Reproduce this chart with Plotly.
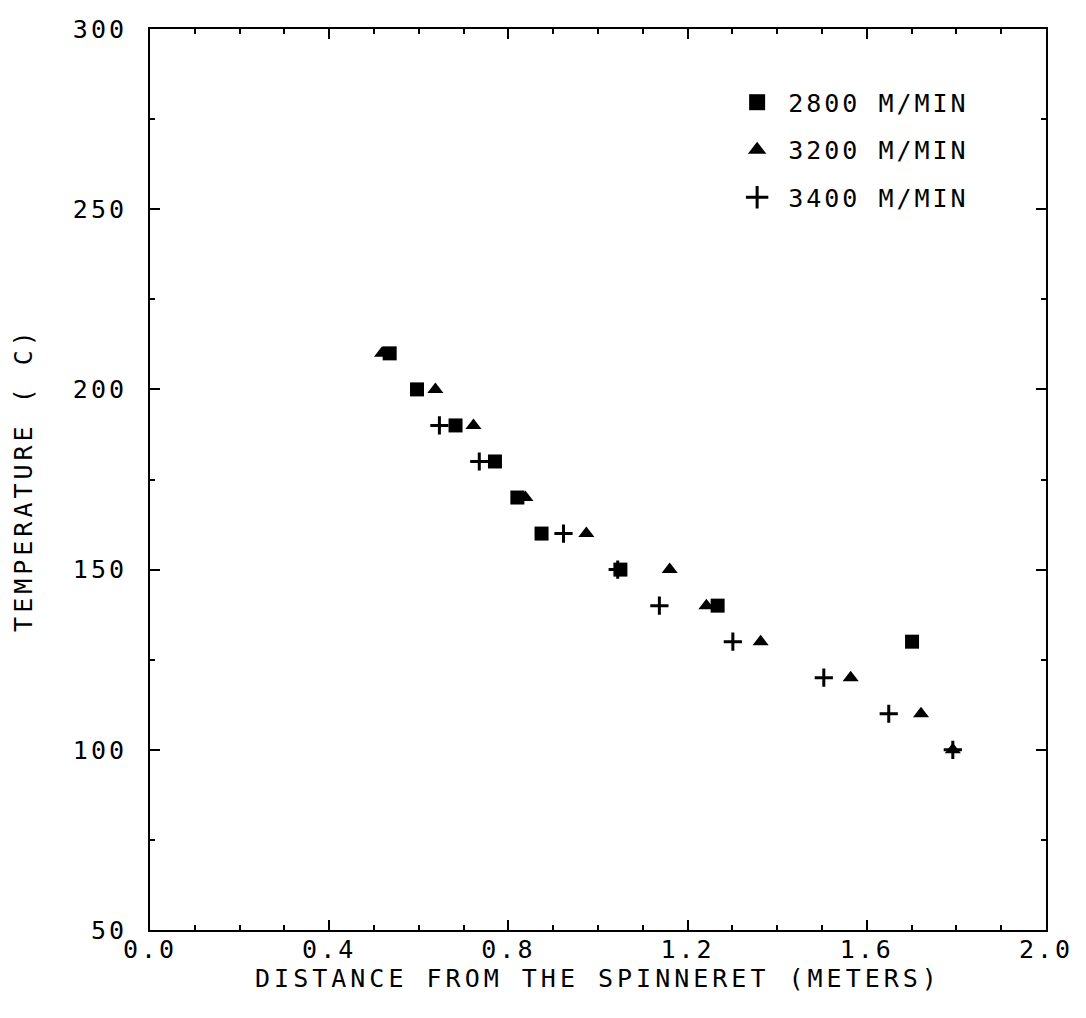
import plotly.graph_objects as go

# ---- data ----
sq_x = [0.535, 0.596, 0.682, 0.770, 0.820, 0.874, 1.050, 1.267, 1.701]
sq_t = [210, 200, 190, 180, 170, 160, 150, 140, 130]

tri_x = [0.518, 0.637, 0.722, 0.838, 0.974, 1.160, 1.242, 1.363, 1.564, 1.721, 1.792]
tri_t = [210, 200, 190, 170, 160, 150, 140, 130, 120, 110, 100]

plus_x = [0.646, 0.735, 0.923, 1.044, 1.137, 1.301, 1.504, 1.649, 1.792]
plus_t = [190, 180, 160, 150, 140, 130, 120, 110, 100]

names = ["2800 M/MIN", "3200 M/MIN", "3400 M/MIN"]
x_ticks = [0.0, 0.4, 0.8, 1.2, 1.6, 2.0]
x_tick_text = ["0.0", "0.4", "0.8", "1.2", "1.6", "2.0"]
y_ticks = [50, 100, 150, 200, 250, 300]

FONT = "DejaVu Sans Mono"
fs = 25

series = [
    (sq_x, sq_t, names[0], "a", dict(symbol="square", color="black"), 14),
    (tri_x, tri_t, names[1], "b", dict(symbol="triangle-up", color="black"), 14),
    (plus_x, plus_t, names[2], "c", dict(symbol="cross-thin", color="black",
                                         line=dict(width=3, color="black")), 13),
]

fig = go.Figure()
for xs, ts, nm, grp, mk, sz in series:
    fig.add_trace(go.Scatter(x=xs, y=ts, mode="markers", name=nm, legendgroup=grp,
                             showlegend=False, marker=dict(size=sz, **mk)))
    # legend entry with the larger symbol used in the key
    fig.add_trace(go.Scatter(x=[None], y=[None], mode="markers", name=nm, legendgroup=grp,
                             showlegend=True, marker=dict(size=16, **mk)))

axis_common = dict(showline=True, linecolor="black", linewidth=2, mirror="ticks",
                   ticks="inside", tickcolor="black", tickwidth=2, ticklen=10,
                   showgrid=False, zeroline=False,
                   tickfont=dict(family=FONT, size=fs, color="black"))

fig.update_xaxes(range=[0, 2.0], tickvals=x_ticks, ticktext=x_tick_text,
                 minor=dict(dtick=0.1, ticks="inside", ticklen=5, tickwidth=2, tickcolor="black"),
                 ticklabelstandoff=-4,
                 title=dict(text="DISTANCE FROM THE SPINNERET (METERS)",
                            font=dict(family=FONT, size=fs, color="black"), standoff=4),
                 **axis_common)
fig.update_yaxes(range=[50, 300], tickvals=y_ticks,
                 minor=dict(dtick=25, ticks="inside", ticklen=5, tickwidth=2, tickcolor="black"),
                 ticklabelstandoff=16,
                 title=dict(text="TEMPERATURE ( C)",
                            font=dict(family=FONT, size=fs, color="black"), standoff=42),
                 **axis_common)

fig.update_layout(
    width=1086, height=1018,
    margin=dict(l=150, r=40, t=29, b=88),
    plot_bgcolor="white", paper_bgcolor="white",
    font=dict(family=FONT, size=fs, color="black"),
    legend=dict(x=0.643, y=0.944, xanchor="left", yanchor="top",
                bgcolor="rgba(0,0,0,0)", tracegroupgap=12, itemwidth=52,
                font=dict(family=FONT, size=fs, color="black")),
)

post = """
document.querySelectorAll('.xtitle, .ytitle').forEach(function(el){el.style.letterSpacing='4px';});
document.querySelectorAll('.xtick text, .ytick text, .legendtext').forEach(function(el){el.style.letterSpacing='3px';});
document.querySelectorAll('.legend, .legend *').forEach(function(el){el.removeAttribute('clip-path');});
"""
fig.write_html("out.html", post_script=post)
